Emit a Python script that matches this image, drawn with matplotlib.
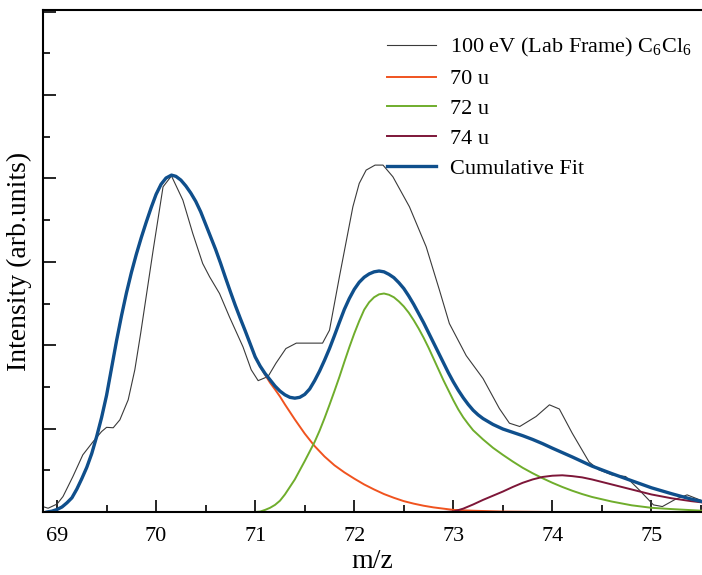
import numpy as np
import matplotlib
matplotlib.use("Agg")
import matplotlib.pyplot as plt
from matplotlib.ticker import MultipleLocator

plt.rcParams['font.family'] = ['Liberation Serif', 'DejaVu Serif']
plt.rcParams['mathtext.fontset'] = 'custom'
plt.rcParams['mathtext.rm'] = 'Liberation Serif'

# measured spectrum, 100 eV lab frame
data_x = [68.855, 68.91, 69.00, 69.06, 69.16, 69.26, 69.365, 69.45, 69.50, 69.567,
          69.634, 69.718, 69.785, 69.845, 69.97, 70.07, 70.155, 70.27, 70.37, 70.47,
          70.54, 70.64, 70.74, 70.877, 70.96, 71.03, 71.13, 71.21, 71.31, 71.415,
          71.68, 71.75, 71.85, 71.986, 72.05, 72.12, 72.21, 72.29, 72.39, 72.557,
          72.726, 72.86, 72.96, 73.13, 73.30, 73.465, 73.566, 73.67, 73.835, 73.97,
          74.07, 74.20, 74.37, 74.47, 74.60, 74.74, 74.876, 75.02, 75.11, 75.246,
          75.36, 75.51]
data_y = [0.13, 0.09, 0.19, 0.37, 0.85, 1.37, 1.69, 1.93, 2.03, 2.02,
          2.21, 2.69, 3.41, 4.30, 6.28, 7.80, 8.06, 7.48, 6.68, 5.96,
          5.64, 5.24, 4.68, 3.96, 3.41, 3.15, 3.25, 3.57, 3.92, 4.05,
          4.05, 4.36, 5.64, 7.32, 7.88, 8.20, 8.32, 8.32, 8.04, 7.32,
          6.36, 5.32, 4.52, 3.75, 3.20, 2.48, 2.13, 2.05, 2.29, 2.57,
          2.47, 1.89, 1.20, 1.01, 0.89, 0.85, 0.53, 0.17, 0.13, 0.31,
          0.41, 0.27]

# cumulative fit
fit_x = [68.90, 68.95, 69.00, 69.05, 69.10, 69.15, 69.20, 69.25, 69.30, 69.35,
         69.40, 69.45, 69.50, 69.55, 69.60, 69.65, 69.70, 69.75, 69.80, 69.85,
         69.90, 69.95, 70.00, 70.05, 70.10, 70.155, 70.20, 70.25, 70.30, 70.35,
         70.40, 70.45, 70.50, 70.55, 70.60, 70.65, 70.70, 70.75, 70.80, 70.85,
         70.90, 70.95, 71.00, 71.05, 71.10, 71.15, 71.20, 71.25, 71.30, 71.35,
         71.40, 71.45, 71.50, 71.55, 71.60, 71.65, 71.70, 71.75, 71.80, 71.85,
         71.90, 71.95, 72.00, 72.05, 72.10, 72.15, 72.20, 72.25, 72.30, 72.35,
         72.40, 72.45, 72.50, 72.55, 72.60, 72.65, 72.70, 72.75, 72.80, 72.85,
         72.90, 72.95, 73.00, 73.05, 73.10, 73.15, 73.20, 73.25, 73.30, 73.40,
         73.50, 73.60, 73.70, 73.80, 73.90, 74.00, 74.20, 74.40, 74.60, 74.80,
         75.00, 75.20, 75.40, 75.51]
fit_y = [0.00, 0.02, 0.06, 0.12, 0.22, 0.34, 0.55, 0.80, 1.07, 1.40,
         1.81, 2.27, 2.80, 3.45, 4.10, 4.70, 5.25, 5.74, 6.18, 6.58,
         6.95, 7.30, 7.62, 7.86, 8.01, 8.08, 8.05, 7.96, 7.82, 7.65,
         7.45, 7.20, 6.90, 6.60, 6.30, 5.97, 5.62, 5.28, 4.95, 4.64,
         4.34, 4.03, 3.72, 3.50, 3.32, 3.17, 3.02, 2.90, 2.81, 2.75,
         2.73, 2.75, 2.82, 2.95, 3.15, 3.38, 3.64, 3.92, 4.23, 4.55,
         4.86, 5.12, 5.34, 5.51, 5.63, 5.71, 5.76, 5.78, 5.76, 5.70,
         5.62, 5.50, 5.36, 5.18, 4.98, 4.76, 4.54, 4.30, 4.06, 3.82,
         3.58, 3.34, 3.12, 2.92, 2.74, 2.58, 2.44, 2.33, 2.24, 2.10,
         1.99, 1.91, 1.83, 1.74, 1.64, 1.53, 1.32, 1.10, 0.92, 0.75,
         0.58, 0.44, 0.31, 0.25]

# 70 u component
u70_x = [68.90, 68.95, 69.00, 69.05, 69.10, 69.15, 69.20, 69.25, 69.30, 69.35,
         69.40, 69.45, 69.50, 69.55, 69.60, 69.65, 69.70, 69.75, 69.80, 69.85,
         69.90, 69.95, 70.00, 70.05, 70.10, 70.155, 70.20, 70.25, 70.30, 70.35,
         70.40, 70.45, 70.50, 70.55, 70.60, 70.65, 70.70, 70.75, 70.80, 70.85,
         70.90, 70.95, 71.00, 71.05, 71.10, 71.15, 71.20, 71.25, 71.30, 71.35,
         71.40, 71.50, 71.60, 71.70, 71.80, 71.90, 72.00, 72.10, 72.20, 72.30,
         72.40, 72.50, 72.60, 72.70, 72.80, 72.90, 73.00, 73.20, 73.50, 74.00,
         75.51]
u70_y = [0.00, 0.02, 0.06, 0.12, 0.22, 0.34, 0.55, 0.80, 1.07, 1.40,
         1.81, 2.27, 2.80, 3.45, 4.10, 4.70, 5.25, 5.74, 6.18, 6.58,
         6.95, 7.30, 7.62, 7.86, 8.01, 8.08, 8.05, 7.96, 7.82, 7.65,
         7.45, 7.20, 6.90, 6.60, 6.30, 5.97, 5.62, 5.28, 4.95, 4.64,
         4.34, 4.03, 3.72, 3.49, 3.29, 3.10, 2.94, 2.77, 2.58, 2.40,
         2.22, 1.88, 1.58, 1.33, 1.12, 0.95, 0.80, 0.66, 0.54, 0.43,
         0.34, 0.26, 0.20, 0.15, 0.11, 0.08, 0.05, 0.03, 0.01, 0.00,
         0.00]

# 72 u component
u72_x = [71.00, 71.05, 71.10, 71.15, 71.20, 71.25, 71.30, 71.35, 71.40, 71.45,
         71.50, 71.55, 71.60, 71.65, 71.70, 71.75, 71.80, 71.85, 71.90, 71.95,
         72.00, 72.05, 72.10, 72.15, 72.20, 72.25, 72.30, 72.35, 72.40, 72.45,
         72.50, 72.55, 72.60, 72.65, 72.70, 72.75, 72.80, 72.85, 72.90, 72.95,
         73.00, 73.05, 73.10, 73.15, 73.20, 73.30, 73.40, 73.50, 73.60, 73.70,
         73.80, 73.90, 74.00, 74.10, 74.20, 74.30, 74.40, 74.60, 74.80, 75.00,
         75.20, 75.51]
u72_y = [0.00, 0.01, 0.05, 0.10, 0.17, 0.27, 0.42, 0.60, 0.78, 1.00,
         1.22, 1.45, 1.68, 1.95, 2.25, 2.57, 2.90, 3.24, 3.60, 3.95,
         4.28, 4.58, 4.85, 5.03, 5.15, 5.22, 5.24, 5.21, 5.15, 5.05,
         4.93, 4.78, 4.60, 4.40, 4.18, 3.94, 3.68, 3.42, 3.16, 2.92,
         2.68, 2.46, 2.27, 2.11, 1.96, 1.74, 1.54, 1.37, 1.21, 1.06,
         0.93, 0.81, 0.70, 0.60, 0.51, 0.43, 0.36, 0.25, 0.16, 0.10,
         0.07, 0.03]

# 74 u component
u74_x = [72.90, 73.00, 73.10, 73.20, 73.30, 73.40, 73.50, 73.60, 73.70, 73.80,
         73.90, 74.00, 74.10, 74.20, 74.30, 74.40, 74.50, 74.60, 74.70, 74.80,
         74.90, 75.00, 75.20, 75.40, 75.51]
u74_y = [0.00, 0.01, 0.08, 0.18, 0.29, 0.39, 0.49, 0.60, 0.70, 0.78,
         0.84, 0.87, 0.88, 0.86, 0.83, 0.78, 0.72, 0.66, 0.60, 0.54,
         0.48, 0.42, 0.33, 0.26, 0.23]

fig = plt.figure(figsize=(7.02, 5.75), dpi=100)
ax = fig.add_axes([0.0608, 0.1096, 0.9392, 0.873])

ax.plot(data_x, data_y, color='#3a3a3a', lw=0.8, label='100 eV (Lab Frame) C$_6$Cl$_6$')
ax.plot(u70_x, u70_y, color='#f0531f', lw=1.4, label='70 u')
ax.plot(u72_x, u72_y, color='#6fad2c', lw=1.4, label='72 u')
ax.plot(u74_x, u74_y, color='#7d1638', lw=1.4, label='74 u')
ax.plot(fit_x, fit_y, color='#0f4f8c', lw=2.4, label='Cumulative Fit')

ax.set_xlim(68.855, 75.51)
ax.set_ylim(0, 12.04)
ax.xaxis.set_major_locator(MultipleLocator(1))
ax.xaxis.set_minor_locator(MultipleLocator(0.5))
ax.yaxis.set_major_locator(MultipleLocator(2))
ax.yaxis.set_minor_locator(MultipleLocator(1))
ax.tick_params(which='both', direction='in', width=1.2, labelsize=16, pad=11)
ax.tick_params(which='major', length=9)
ax.tick_params(which='minor', length=5)
ax.set_yticklabels([])
ax.spines['right'].set_visible(False)
for s in ['left', 'bottom', 'top']:
    ax.spines[s].set_linewidth(1.5)

ax.set_xlabel('m/z', fontsize=20, labelpad=2)
ax.set_ylabel('Intensity (arb.units)', fontsize=20)
ax.yaxis.set_label_coords(-0.016, 0.5)

ax.legend(loc='upper right', frameon=False, fontsize=16, handlelength=2.2,
          handletextpad=0.65, labelspacing=0.42, borderaxespad=0,
          bbox_to_anchor=(0.998, 0.965))

fig.savefig('out.png', dpi=100)
